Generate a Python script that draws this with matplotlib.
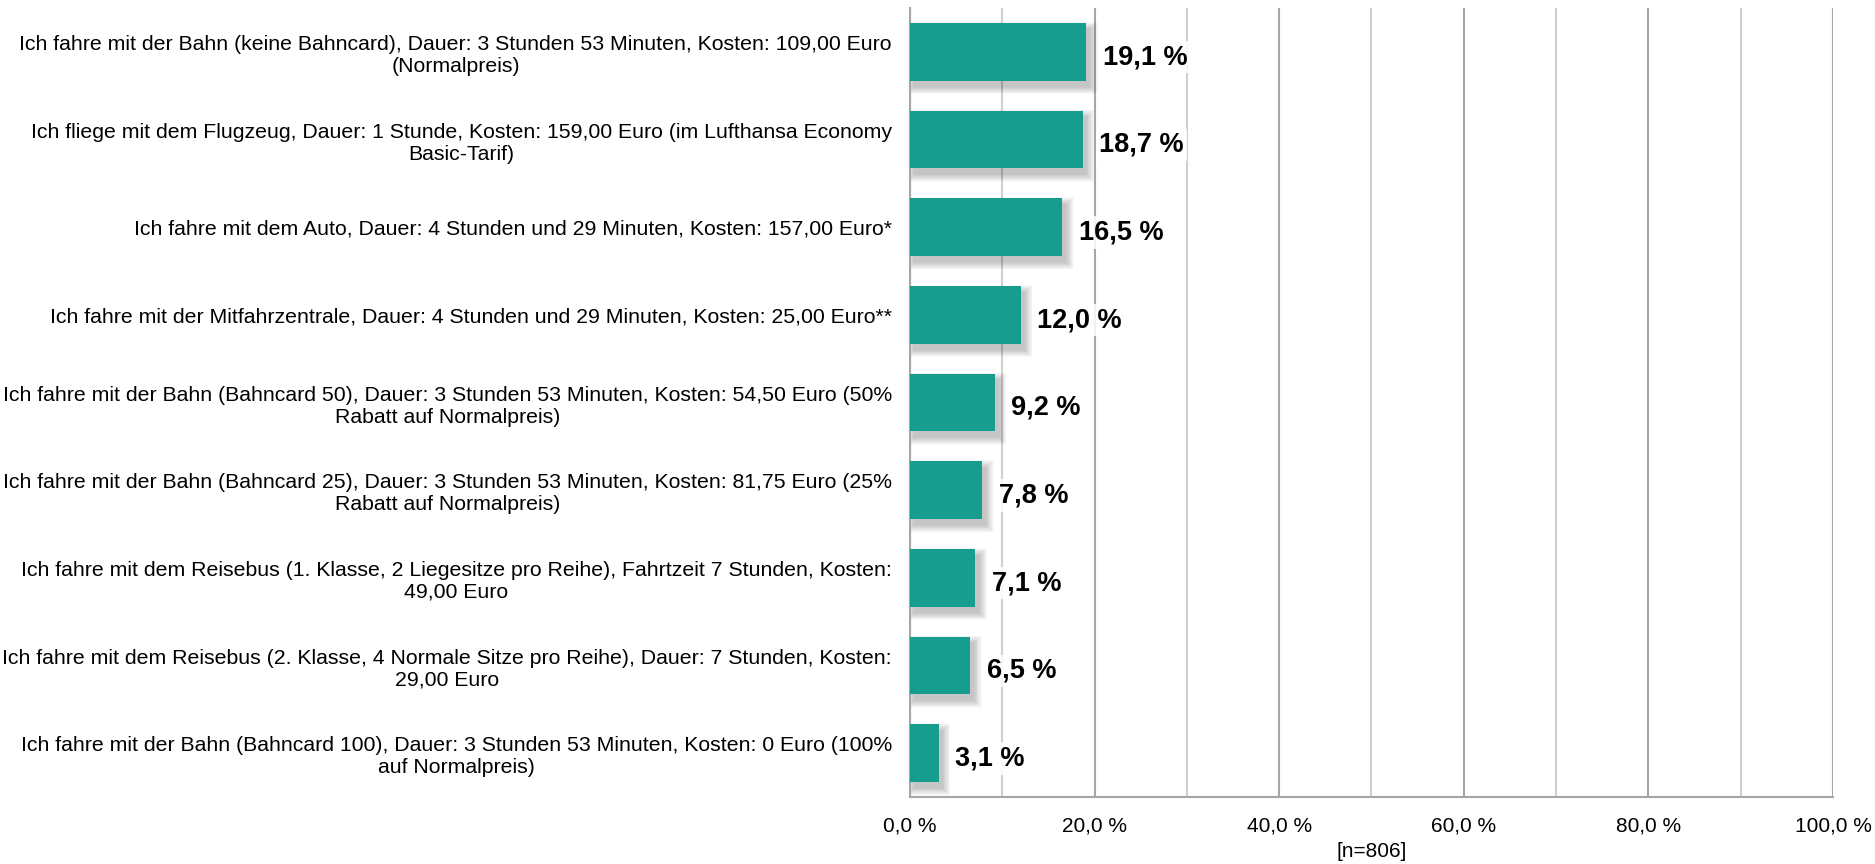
import matplotlib
matplotlib.use('Agg')
import matplotlib.pyplot as plt
from matplotlib.patches import Rectangle
from matplotlib.ticker import MultipleLocator, FuncFormatter

plt.rcParams['font.family'] = ['Liberation Sans', 'DejaVu Sans']

categories = [
    "Ich fahre mit der Bahn (keine Bahncard), Dauer: 3 Stunden 53 Minuten, Kosten: 109,00 Euro\n(Normalpreis)",
    "Ich fliege mit dem Flugzeug, Dauer: 1 Stunde, Kosten: 159,00 Euro (im Lufthansa Economy\nBasic-Tarif)",
    "Ich fahre mit dem Auto, Dauer: 4 Stunden und 29 Minuten, Kosten: 157,00 Euro*",
    "Ich fahre mit der Mitfahrzentrale, Dauer: 4 Stunden und 29 Minuten, Kosten: 25,00 Euro**",
    "Ich fahre mit der Bahn (Bahncard 50), Dauer: 3 Stunden 53 Minuten, Kosten: 54,50 Euro (50%\nRabatt auf Normalpreis)",
    "Ich fahre mit der Bahn (Bahncard 25), Dauer: 3 Stunden 53 Minuten, Kosten: 81,75 Euro (25%\nRabatt auf Normalpreis)",
    "Ich fahre mit dem Reisebus (1. Klasse, 2 Liegesitze pro Reihe), Fahrtzeit 7 Stunden, Kosten:\n49,00 Euro",
    "Ich fahre mit dem Reisebus (2. Klasse, 4 Normale Sitze pro Reihe), Dauer: 7 Stunden, Kosten:\n29,00 Euro",
    "Ich fahre mit der Bahn (Bahncard 100), Dauer: 3 Stunden 53 Minuten, Kosten: 0 Euro (100%\nauf Normalpreis)",
]
values = [19.1, 18.7, 16.5, 12.0, 9.2, 7.8, 7.1, 6.5, 3.1]
n_label = "[n=806]"

bar_color = '#179d8e'
bar_h = 0.66

fig = plt.figure(figsize=(18.75, 8.64), dpi=100)
ax = fig.add_axes([0.4853, 0.0775, 0.4923, 0.9132])

y = list(range(len(values)))

# soft drop shadow (down-right): stacked faint rectangles, widening outward
for yi, v in zip(y, values):
    for k in range(10):
        ex = 0.09 * k          # horizontal spread in data units
        ey = 0.009 * k         # vertical spread
        ax.add_patch(Rectangle((0.45 - ex, yi - bar_h / 2 + 0.07 - ey),
                               v + 2 * ex, bar_h + 2 * ey,
                               facecolor='black', alpha=0.022, linewidth=0, zorder=2))

ax.barh(y, values, height=bar_h, color=bar_color, zorder=3)

for yi, v in zip(y, values):
    ax.text(v + 1.8, yi + 0.06, f"{v:.1f} %".replace('.', ','), ha='left', va='center',
            fontsize=19.5, fontweight='bold', color='black', zorder=4,
            bbox=dict(boxstyle='square,pad=0.12', facecolor='white', edgecolor='none', alpha=0.85))

ax.set_xlim(0, 100)
ax.set_ylim(len(values) - 0.5, -0.5)
ax.set_yticks(y)
ax.set_yticklabels(categories, fontsize=15.3, multialignment='center')
ax.xaxis.set_major_locator(MultipleLocator(20))
ax.xaxis.set_minor_locator(MultipleLocator(10))
ax.xaxis.set_major_formatter(FuncFormatter(lambda x, p: f"{x:.1f} %".replace('.', ',')))
ax.tick_params(axis='x', which='both', length=0, labelsize=15, pad=14)
ax.tick_params(axis='y', length=0, pad=13)

ax.grid(axis='x', which='major', color='#a6a6a6', linewidth=1.5, zorder=0)
ax.grid(axis='x', which='minor', color='#d0d0d0', linewidth=1.5, zorder=0)
ax.set_axisbelow(True)

for side in ['top', 'right']:
    ax.spines[side].set_visible(False)
ax.spines['left'].set_color('#a6a6a6')
ax.spines['left'].set_linewidth(1.5)
ax.spines['bottom'].set_color('#a6a6a6')
ax.spines['bottom'].set_linewidth(1.5)

ax.set_xlabel(n_label, fontsize=15, labelpad=5)

fig.savefig('out.png', dpi=100, facecolor='white')
